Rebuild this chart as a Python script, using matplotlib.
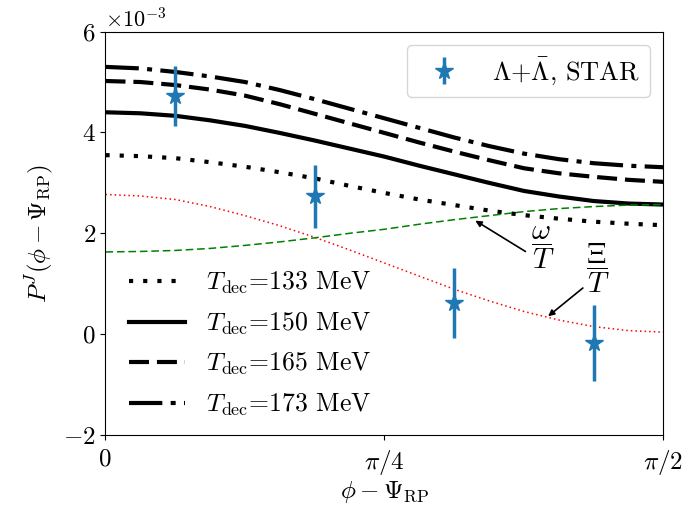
import numpy as np
import matplotlib
matplotlib.use("Agg")
import matplotlib.pyplot as plt

plt.rcParams['font.family'] = 'serif'
plt.rcParams['font.serif'] = ['cmr10']
plt.rcParams['mathtext.fontset'] = 'cm'
plt.rcParams['axes.formatter.use_mathtext'] = True
plt.rcParams['font.size'] = 18

# x grid as fractions of pi/2 (step 1/16)
frac = [i / 16 for i in range(17)]
# polarization curves (units of 1e-3)
p133 = [3.55, 3.53, 3.49, 3.41, 3.32, 3.21, 3.09, 2.94, 2.80,
        2.67, 2.56, 2.45, 2.36, 2.29, 2.23, 2.19, 2.16]
p150 = [4.40, 4.38, 4.33, 4.24, 4.13, 3.99, 3.84, 3.68, 3.52,
        3.34, 3.17, 3.00, 2.84, 2.73, 2.64, 2.59, 2.57]
p165 = [5.02, 5.00, 4.94, 4.85, 4.73, 4.56, 4.37, 4.18, 3.99,
        3.80, 3.62, 3.45, 3.29, 3.19, 3.12, 3.06, 3.02]
p173 = [5.30, 5.27, 5.20, 5.11, 5.00, 4.84, 4.66, 4.47, 4.28,
        4.09, 3.90, 3.73, 3.58, 3.47, 3.39, 3.34, 3.31]
varpi = [2.77, 2.74, 2.67, 2.53, 2.35, 2.15, 1.92, 1.67, 1.41,
         1.15, 0.89, 0.66, 0.45, 0.28, 0.15, 0.07, 0.04]
omega = [1.63, 1.64, 1.66, 1.70, 1.76, 1.83, 1.91, 2.00, 2.08,
         2.18, 2.27, 2.35, 2.43, 2.49, 2.53, 2.56, 2.57]

# STAR data (x as fractions of pi/2, y in 1e-3)
star_frac = [1/8, 3/8, 5/8, 7/8]
star_y = [4.72, 2.73, 0.62, -0.17]
star_err = [0.59, 0.63, 0.69, 0.75]

labels_T = [r'$T_{\rm dec}$=133 MeV', r'$T_{\rm dec}$=150 MeV',
            r'$T_{\rm dec}$=165 MeV', r'$T_{\rm dec}$=173 MeV']
star_label = r'$\Lambda$+$\bar{\Lambda}$, STAR'

x = np.array(frac) * np.pi / 2
xs = np.array(star_frac) * np.pi / 2
s = 1e-3

fig = plt.figure(figsize=(6.94, 5.08), dpi=100)
ax = fig.add_axes([0.152, 0.1437, 0.804, 0.7941])

l1, = ax.plot(x, np.array(p133) * s, color='black', lw=3, ls=(0, (1, 2.4)))
l2, = ax.plot(x, np.array(p150) * s, color='black', lw=3, ls='-')
l3, = ax.plot(x, np.array(p165) * s, color='black', lw=3, ls=(0, (4.8, 1.9)))
l4, = ax.plot(x, np.array(p173) * s, color='black', lw=3, ls=(0, (8, 2, 1.2, 2)))
ax.plot(x, np.array(varpi) * s, color='red', lw=1.1, ls=(0, (1, 2)))
ax.plot(x, np.array(omega) * s, color='green', lw=1.1, ls=(0, (5, 2.5)))

eb = ax.errorbar(xs, np.array(star_y) * s, yerr=np.array(star_err) * s,
                 fmt='*', color='#1f77b4', markersize=13, elinewidth=2.5,
                 capsize=0, label=star_label)

ax.set_xlim(0, np.pi / 2)
ax.set_ylim(-2e-3, 6e-3)
ax.set_xticks([0, np.pi / 4, np.pi / 2])
ax.set_xticklabels(['0', r'$\pi/4$', r'$\pi/2$'])
ax.set_yticks(np.array([-2, 0, 2, 4, 6]) * s)
ax.ticklabel_format(axis='y', style='sci', scilimits=(0, 0))
ax.yaxis.get_offset_text().set_fontsize(16)
ax.tick_params(axis='x', pad=6)
ax.set_xlabel(r'$\phi-\Psi_{\rm RP}$', labelpad=1)
ax.set_ylabel(r'$P^J(\phi-\Psi_{\rm RP})$', labelpad=6)

# annotations
ax.annotate('', xy=(1.0345, 2.28e-3), xytext=(1.189, 1.61e-3),
            arrowprops=dict(arrowstyle='-|>', color='black', lw=1.2, mutation_scale=9))
ax.text(1.2316, 1.70e-3, r'$\dfrac{\omega}{T}$', fontsize=21, ha='center', va='center')
ax.annotate('', xy=(1.240, 0.32e-3), xytext=(1.350, 0.95e-3),
            arrowprops=dict(arrowstyle='-|>', color='black', lw=1.2, mutation_scale=9))
ax.text(1.386, 1.31e-3, r'$\dfrac{\Xi}{T}$', fontsize=21, ha='center', va='center')

leg1 = ax.legend(handles=[eb], loc='upper right', fontsize=19)
ax.add_artist(leg1)
ax.legend(handles=[l1, l2, l3, l4], labels=labels_T, loc='lower left',
          bbox_to_anchor=(0.0, -0.015), frameon=False, fontsize=18.5,
          handlelength=2.2, labelspacing=0.55, borderaxespad=0.5)

fig.savefig('out.png', dpi=100)
